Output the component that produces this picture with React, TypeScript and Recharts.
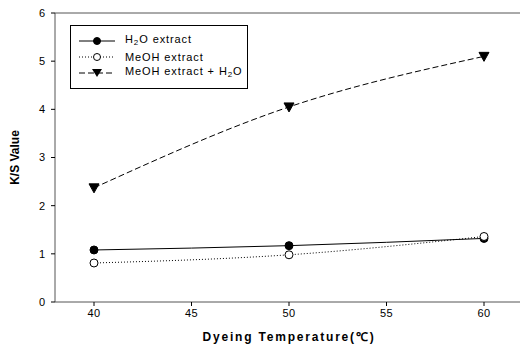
import React from "react";
import {
  LineChart,
  Line,
  XAxis,
  YAxis,
  ReferenceLine,
  Label,
} from "recharts";

const temps = [40, 50, 60];
const h2oExtract = [1.08, 1.17, 1.32];
const meohExtract = [0.81, 0.98, 1.36];
const meohPlusH2o = [2.37, 4.05, 5.1];
const xTicks = [40, 45, 50, 55, 60];
const yTicks = [0, 1, 2, 3, 4, 5, 6];

const data = temps.map((t, i) => ({
  temp: t,
  h2o: h2oExtract[i],
  meoh: meohExtract[i],
  mix: meohPlusH2o[i],
}));

const FONT = "'Liberation Sans', Arial, sans-serif";

function Triangle(props: any) {
  const { cx, cy } = props;
  if (cx == null || cy == null) return null;
  return (
    <path
      d={`M${cx - 5},${cy - 4} L${cx + 5},${cy - 4} L${cx},${cy + 5} Z`}
      fill="#000"
      stroke="#000"
    />
  );
}

function LegendBox() {
  const sub = { fontSize: 8, verticalAlign: "-2px" } as React.CSSProperties;
  const rows = [
    { dash: undefined, fill: "#000", shape: "circle", label: <>H<span style={sub}>2</span>O extract</> },
    { dash: "1 2", fill: "#fff", shape: "circle", label: <>MeOH extract</> },
    { dash: "6 3", fill: "#000", shape: "tri", label: <>MeOH extract + H<span style={sub}>2</span>O</> },
  ];
  return (
    <div
      style={{
        position: "absolute",
        left: 70,
        top: 25,
        width: 178,
        height: 64,
        border: "1px solid #000",
        background: "#fff",
        fontFamily: FONT,
        fontSize: 11,
        letterSpacing: 0.9,
        boxSizing: "border-box",
        paddingTop: 7,
      }}
    >
      {rows.map((r, i) => (
        <div key={i} style={{ display: "flex", alignItems: "center", height: 16 }}>
          <svg width={46} height={12} style={{ marginLeft: 8 }}>
            <line x1={0} y1={6} x2={36} y2={6} stroke="#000" strokeDasharray={r.dash} />
            {r.shape === "circle" ? (
              <circle cx={18} cy={6} r={3.5} fill={r.fill} stroke="#000" />
            ) : (
              <path d="M13,2 L23,2 L18,10 Z" fill="#000" />
            )}
          </svg>
          <span style={{ lineHeight: "12px", whiteSpace: "nowrap" }}>{r.label}</span>
        </div>
      ))}
    </div>
  );
}

export default function App() {
  return (
    <div
      style={{
        position: "fixed",
        left: 0,
        top: 0,
        width: 520,
        height: 351,
        overflow: "hidden",
        background: "#fff",
      }}
    >
      <LineChart
        width={524}
        height={351}
        data={data}
        margin={{ top: 13, right: 1, left: 0, bottom: 0 }}
      >
        <XAxis
          dataKey="temp"
          type="number"
          domain={[38, 62]}
          ticks={xTicks}
          height={49}
          stroke="#555"
          tickSize={4}
          tickLine={{ stroke: "#000" }}
          tick={{ fill: "#000", fontSize: 11, fontFamily: FONT, letterSpacing: 0.5 }}
          tickMargin={3}
        >
          <Label
            value="Dyeing Temperature(℃)"
            position="insideBottom"
            offset={10}
            style={{ fill: "#000", fontSize: 12, fontWeight: "bold", fontFamily: FONT, letterSpacing: 1.8 }}
          />
        </XAxis>
        <YAxis
          type="number"
          domain={[0, 6]}
          ticks={yTicks}
          width={55}
          stroke="#555"
          tickSize={4}
          tickLine={{ stroke: "#000" }}
          tick={{ fill: "#000", fontSize: 11, fontFamily: FONT }}
          tickMargin={6}
        >
          <Label
            value="K/S Value"
            angle={-90}
            position="insideLeft"
            offset={15}
            style={{ fill: "#000", fontSize: 12, fontWeight: "bold", fontFamily: FONT, textAnchor: "middle" }}
          />
        </YAxis>
        <ReferenceLine y={6} stroke="#555" ifOverflow="visible" />
        <Line
          type="monotone"
          dataKey="h2o"
          stroke="#000"
          strokeWidth={1}
          dot={{ r: 4, fill: "#000", stroke: "#000" }}
          isAnimationActive={false}
        />
        <Line
          type="monotone"
          dataKey="meoh"
          stroke="#000"
          strokeWidth={1}
          strokeDasharray="1 2"
          dot={{ r: 4, fill: "#fff", stroke: "#000", strokeDasharray: "" }}
          isAnimationActive={false}
        />
        <Line
          type="monotone"
          dataKey="mix"
          stroke="#000"
          strokeWidth={1}
          strokeDasharray="6 3"
          dot={<Triangle />}
          isAnimationActive={false}
        />
      </LineChart>
      <LegendBox />
    </div>
  );
}
